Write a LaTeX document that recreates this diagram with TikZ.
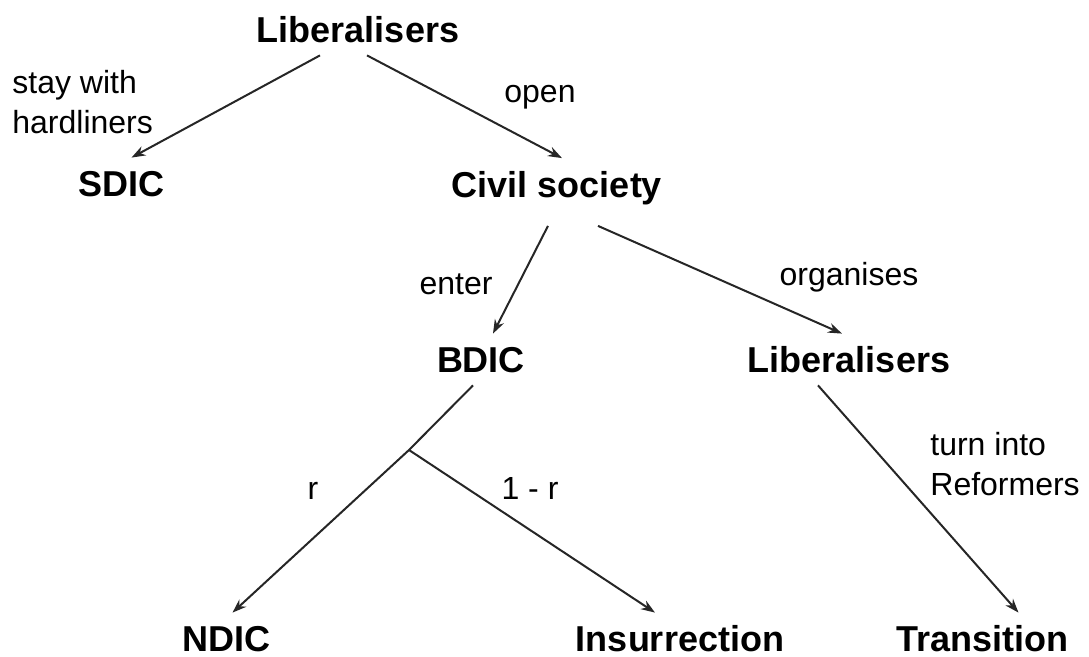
\documentclass[tikz,border=0pt]{standalone}
\usepackage{fontspec}
\setmainfont{Liberation Sans}
\usetikzlibrary{arrows.meta}

\tikzset{
  outcome/.style={font=\fontsize{18pt}{22pt}\selectfont\bfseries, anchor=base,
    inner xsep=0pt, inner ysep=6pt, text height=13.5pt, text depth=0pt},
  move/.style={font=\fontsize{16pt}{20pt}\selectfont, anchor=base, inner sep=0pt},
  arr/.style={line width=1pt, black!85, -{Stealth[length=7pt,width=5pt]}}
}

\begin{document}
\begin{tikzpicture}[x=0.5pt,y=-0.5pt]
    \useasboundingbox (0,0) rectangle (1089,657);

    % Place outcomes
    \foreach \x/\y/\name/\txt in {358/43/libtop/Liberalisers, 121.5/197/sdic/SDIC,
        557/197.5/civil/Civil society, 481/373/bdic/BDIC, 849/373/libright/Liberalisers,
        226.5/652/ndic/NDIC, 680/652/insur/Insurrection, 982.5/652/trans/Transition}
        \node[outcome] (\name) at (\x,\y) {\txt};

    % Branch point
    \coordinate (split) at (409,450);

    % Draw arrows
    \draw[arr] ([xshift=-19pt]libtop.south) -- ([xshift=5pt]sdic.north);
    \draw[arr] ([xshift=4.5pt]libtop.south) -- ([xshift=2.5pt]civil.north);
    \draw[arr] ([shift={(-4.5pt,-8pt)}]civil.south) -- ([xshift=6pt]bdic.north);
    \draw[arr] ([shift={(20.5pt,-8pt)}]civil.south) -- ([xshift=-3.5pt]libright.north);
    \draw[arr] ([xshift=-4pt]bdic.south) -- (split) -- ([xshift=3pt]ndic.north);
    \draw[arr] (split) -- ([xshift=-12.5pt]insur.north);
    \draw[arr] ([xshift=-15.5pt]libright.south) -- ([xshift=18pt]trans.north);

    % Label moves
    \node[move, anchor=north west, align=left] (staylbl) at (12,70) {stay with\\hardliners};
    \node[move] (openlbl) at (540,103) {open};
    \node[move] (enterlbl) at (456,295) {enter};
    \node[move] (orglbl) at (849,286) {organises};
    \node[move] (rlbl) at (313,500) {r};
    \node[move] (notrlbl) at (530,500) {1 - r};
    \node[move, anchor=north west, align=left] (turnlbl) at (930,432) {turn into\\Reformers};

\end{tikzpicture}
\end{document}
